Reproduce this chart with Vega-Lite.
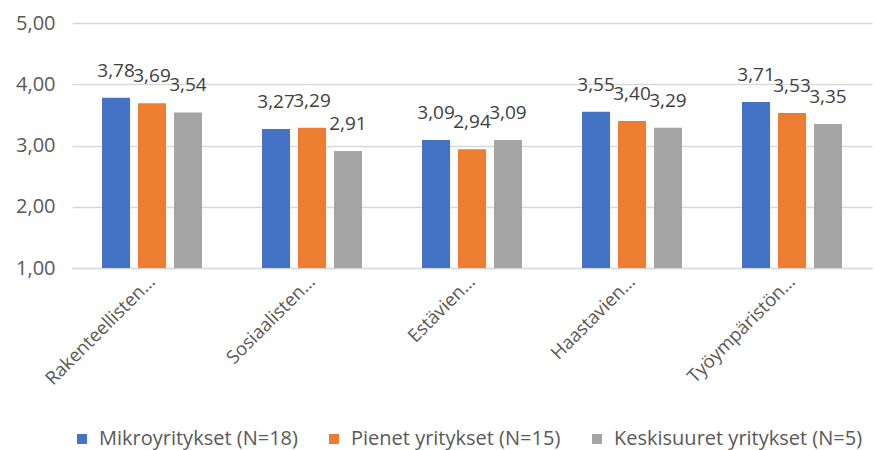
{
  "$schema": "https://vega.github.io/schema/vega-lite/v6.json",
  "width": 800,
  "height": 245,
  "autosize": "none",
  "padding": {"left": 72, "top": 23, "right": 2, "bottom": 182},
  "config": {
    "locale": {"number": {"decimal": ",", "thousands": " ", "grouping": [3], "currency": ["", " €"]}},
    "view": {"stroke": null},
    "font": "Open Sans",
    "axis": {"labelColor": "#595959", "labelFont": "Open Sans", "gridColor": "#D9D9D9", "gridWidth": 1.3},
    "legend": {"labelColor": "#595959", "labelFont": "Open Sans"}
  },
  "data": {
    "values": [
      {"ulottuvuus": "Rakenteellisten…", "ryhma": "Mikroyritykset (N=18)", "arvo": 3.78},
      {"ulottuvuus": "Rakenteellisten…", "ryhma": "Pienet yritykset (N=15)", "arvo": 3.69},
      {"ulottuvuus": "Rakenteellisten…", "ryhma": "Keskisuuret yritykset (N=5)", "arvo": 3.54},
      {"ulottuvuus": "Sosiaalisten…", "ryhma": "Mikroyritykset (N=18)", "arvo": 3.27},
      {"ulottuvuus": "Sosiaalisten…", "ryhma": "Pienet yritykset (N=15)", "arvo": 3.29},
      {"ulottuvuus": "Sosiaalisten…", "ryhma": "Keskisuuret yritykset (N=5)", "arvo": 2.91},
      {"ulottuvuus": "Estävien…", "ryhma": "Mikroyritykset (N=18)", "arvo": 3.09},
      {"ulottuvuus": "Estävien…", "ryhma": "Pienet yritykset (N=15)", "arvo": 2.94},
      {"ulottuvuus": "Estävien…", "ryhma": "Keskisuuret yritykset (N=5)", "arvo": 3.09},
      {"ulottuvuus": "Haastavien…", "ryhma": "Mikroyritykset (N=18)", "arvo": 3.55},
      {"ulottuvuus": "Haastavien…", "ryhma": "Pienet yritykset (N=15)", "arvo": 3.40},
      {"ulottuvuus": "Haastavien…", "ryhma": "Keskisuuret yritykset (N=5)", "arvo": 3.29},
      {"ulottuvuus": "Työympäristön…", "ryhma": "Mikroyritykset (N=18)", "arvo": 3.71},
      {"ulottuvuus": "Työympäristön…", "ryhma": "Pienet yritykset (N=15)", "arvo": 3.53},
      {"ulottuvuus": "Työympäristön…", "ryhma": "Keskisuuret yritykset (N=5)", "arvo": 3.35}
    ]
  },
  "encoding": {
    "x": {
      "field": "ulottuvuus", "type": "nominal", "sort": null, "title": null,
      "scale": {"paddingInner": 0.375, "paddingOuter": 0.1875},
      "axis": {"labelAngle": -45, "labelAlign": "right", "labelBaseline": "middle", "labelFontSize": 18.5, "labelPadding": 10, "labelLimit": 0, "ticks": false, "domainColor": "#D9D9D9", "domainWidth": 1.3}
    },
    "xOffset": {
      "field": "ryhma", "type": "nominal", "sort": null,
      "scale": {"paddingInner": 0.22, "paddingOuter": 0}
    },
    "y": {
      "field": "arvo", "type": "quantitative", "title": null,
      "scale": {"domain": [1, 5], "zero": false, "nice": false},
      "axis": {"values": [1, 2, 3, 4, 5], "format": ".2f", "labelFontSize": 20, "labelPadding": 17, "ticks": false, "domain": false}
    }
  },
  "layer": [
    {
      "mark": {"type": "bar"},
      "encoding": {
        "y2": {"datum": 1},
        "color": {
          "field": "ryhma", "type": "nominal", "sort": null, "title": null,
          "scale": {"range": ["#4472C4", "#ED7D31", "#A5A5A5"]},
          "legend": {"orient": "bottom", "direction": "horizontal", "symbolType": "square", "symbolSize": 100, "labelFontSize": 20, "labelLimit": 0, "labelOffset": 7, "columnPadding": 26, "offset": 40, "symbolStrokeWidth": 0}
        }
      }
    },
    {
      "mark": {"type": "text", "baseline": "alphabetic", "dy": -21, "fontSize": 19, "color": "#404040"},
      "encoding": {
        "text": {"field": "arvo", "type": "quantitative", "format": ".2f"}
      }
    }
  ]
}
